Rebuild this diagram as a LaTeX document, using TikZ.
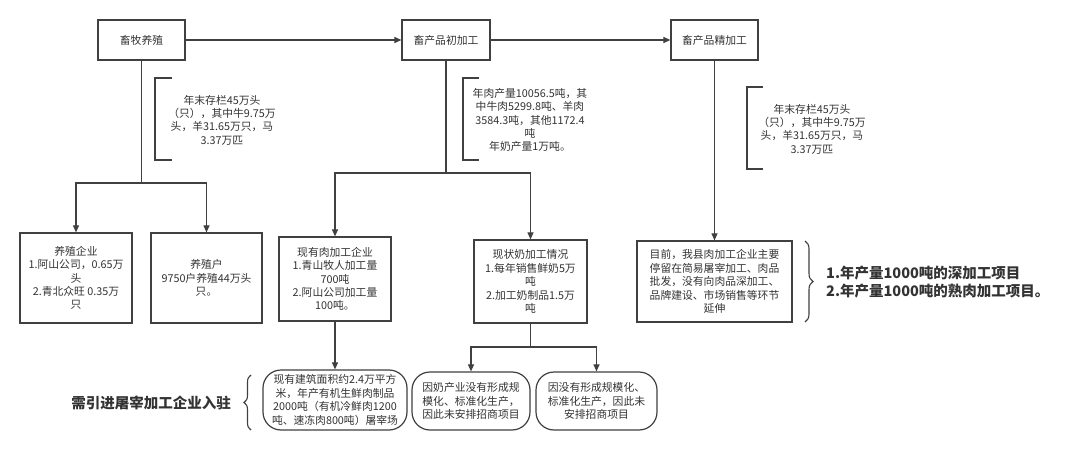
\documentclass[tikz,border=0pt]{standalone}
\usepackage{fontspec}
\setmainfont{Noto Sans CJK SC}
\usetikzlibrary{arrows.meta,decorations.pathreplacing}
\definecolor{ln}{HTML}{404040}
\definecolor{tx}{HTML}{333333}
\begin{document}
\begin{tikzpicture}[x=1pt,y=1pt,
  font=\fontsize{10.8}{13.4}\selectfont,
  box/.style={draw=ln,line width=1.2pt,rectangle,align=center,text=tx,inner sep=0pt},
  rbox/.style={box,rounded corners=18pt},
  note/.style={align=center,text=tx,inner sep=0pt},
  conn/.style={draw=ln,line width=1.1pt},
  arr/.style={conn,-{Triangle[length=7pt,width=6pt]}},
  brk/.style={draw=ln,line width=1.1pt},
  big/.style={font=\fontsize{14.5}{18}\selectfont\bfseries,text=tx,inner sep=0pt,align=left}]
\useasboundingbox (0,0) rectangle (1080,-452);
\fill[white] (0,0) rectangle (1080,-452);

% top row
\node[box,minimum width=87pt,minimum height=40pt] (A) at (141.5,-40) {畜牧养殖};
\node[box,minimum width=88pt,minimum height=40pt] (B) at (446,-40) {畜产品初加工};
\node[box,minimum width=87pt,minimum height=40pt] (C) at (714.5,-40) {畜产品精加工};
\draw[arr] (A) -- (B);
\draw[arr] (B) -- (C);

% second row
\node[box,minimum width=112pt,minimum height=90pt] (D) at (76,-278) {养殖企业\\1.阿山公司，0.65万\\头\\2.青北众旺 0.35万\\只};
\node[box,minimum width=111pt,minimum height=90pt] (E) at (206.5,-278) {养殖户\\9750户养殖44万头\\只。};
\node[box,minimum width=112pt,minimum height=84pt] (F) at (335,-279) {现有肉加工企业\\1.青山牧人加工量\\700吨\\2.阿山公司加工量\\100吨。};
\node[box,minimum width=113pt,minimum height=83pt] (G) at (530.5,-281.5) {现状奶加工情况\\1.每年销售鲜奶5万\\吨\\2.加工奶制品1.5万\\吨};
\node[box,minimum width=155pt,minimum height=81pt] (H) at (714.5,-281.5) {目前，我县肉加工企业主要\\停留在简易屠宰加工、肉品\\批发，没有向肉品深加工、\\品牌建设、市场销售等环节\\延伸};

% third row
\node[rbox,minimum width=144pt,minimum height=60pt] (I) at (335,-400) {现有建筑面积约2.4万平方\\米，年产有机生鲜肉制品\\2000吨（有机冷鲜肉1200\\吨、速冻肉800吨）屠宰场};
\node[rbox,minimum width=118pt,minimum height=58pt] (J) at (471,-401) {因奶产业没有形成规\\模化、标准化生产，\\因此未安排招商项目};
\node[rbox,minimum width=121pt,minimum height=58pt] (K) at (596.5,-401) {因没有形成规模化、\\标准化生产，因此未\\安排招商项目};

% connectors
\coordinate (jA) at (141.5,-183);
\draw[conn] (A) -- (jA);
\draw[arr] (jA) -| (D.north);
\draw[arr] (jA) -| (E.north);
\coordinate (jB) at (446,-173);
\draw[conn] (B) -- (jB);
\draw[arr] (jB) -| (F.north);
\draw[arr] (jB) -| (G.north);
\coordinate (jG) at (530.5,-347);
\draw[conn] (G) -- (jG);
\draw[arr] (jG) -| (J.north);
\draw[arr] (jG) -| (K.north);
\draw[arr] (C) -- (H);
\draw[arr] (F) -- (I);

% brackets with notes
\draw[brk] (172,-78) -- (155,-78) -- (155,-160) -- (172,-160);
\node[note] (n1) at (222,-120) {年末存栏45万头\\（只），其中牛9.75万\\头，羊31.65万只，马\\3.37万匹};
\draw[brk] (479,-78) -- (463,-78) -- (463,-160) -- (479,-160);
\node[note] (n2) at (530,-120) {年肉产量10056.5吨，其\\中牛肉5299.8吨、羊肉\\3584.3吨，其他1172.4\\吨\\年奶产量1万吨。};
\draw[brk] (763,-87) -- (747,-87) -- (747,-169) -- (763,-169);
\node[note] (n3) at (812,-129) {年末存栏45万头\\（只），其中牛9.75万\\头，羊31.65万只，马\\3.37万匹};

% braces
\draw[brk,decorate,decoration={brace,amplitude=7pt}] (251,-430) -- (251,-375);
\node[big,anchor=east] (L1) at (231,-403) {需引进屠宰加工企业入驻};
\draw[brk,decorate,decoration={brace,amplitude=8pt}] (805,-241) -- (805,-322);
\node[big,anchor=west] (L2) at (826,-282) {1.年产量1000吨的深加工项目\\2.年产量1000吨的熟肉加工项目。};
\end{tikzpicture}
\end{document}
